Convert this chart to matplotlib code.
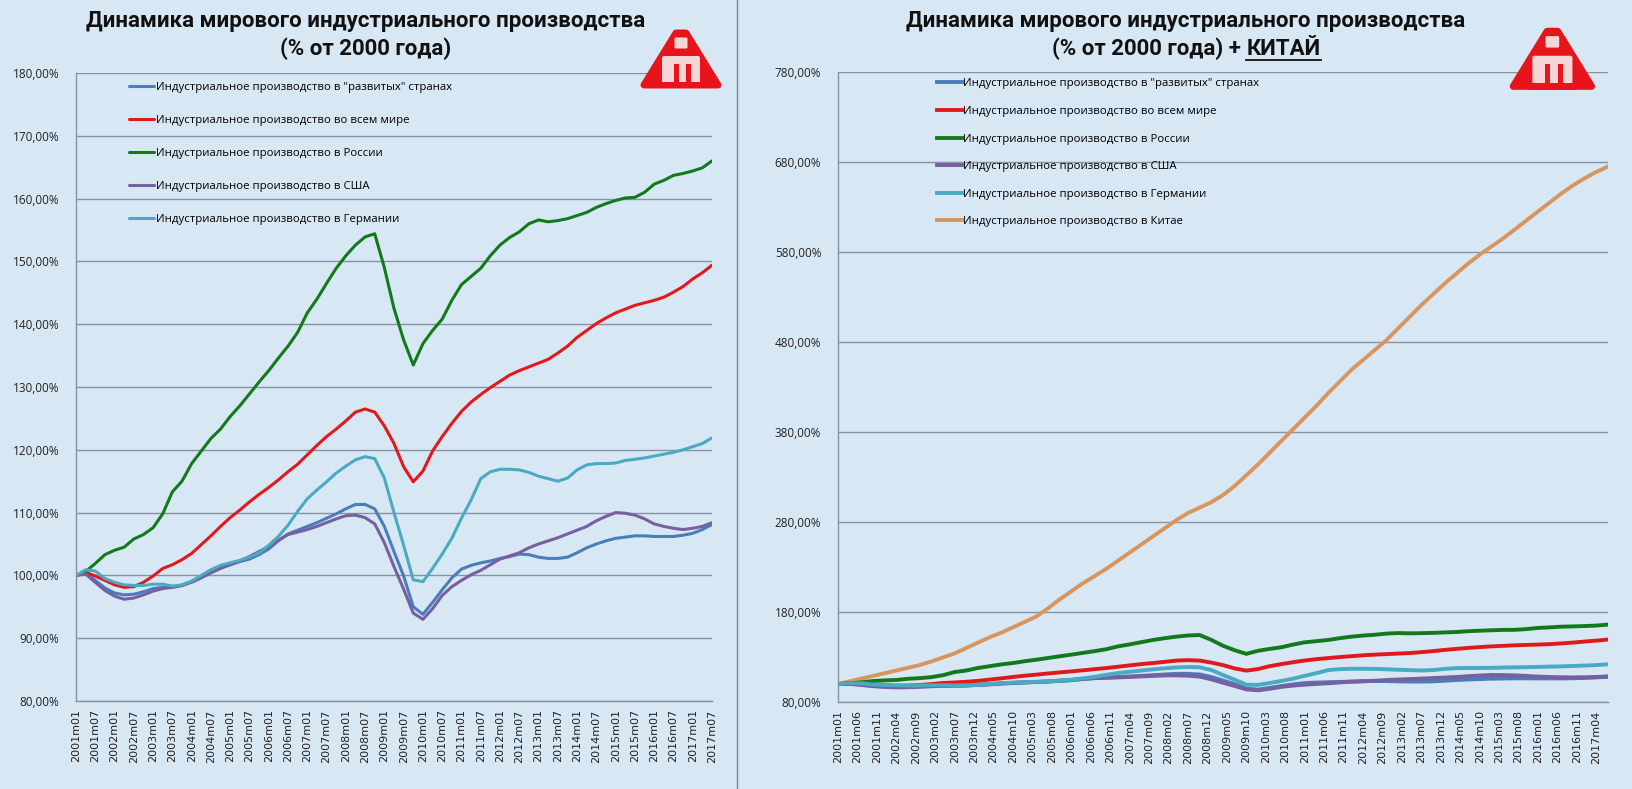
import matplotlib
matplotlib.use("Agg")
import matplotlib.pyplot as plt
from matplotlib.patches import Polygon, FancyBboxPatch, Rectangle

# quarterly points, month index from 2001m01 (0) to 2017m07 (198)
months = list(range(0, 199, 3))

developed = [100.0, 100.4, 99.2, 98.0, 97.2, 96.9, 97.0, 97.4, 97.9, 98.1, 98.1, 98.4,
             99.0, 99.8, 100.8, 101.3, 101.7, 102.2, 102.6, 103.3, 104.2, 105.5, 106.6,
             107.2, 107.8, 108.4, 109.1, 109.8, 110.6, 111.3, 111.3, 110.6, 107.8, 103.8,
             99.9, 95.0, 93.8, 95.7, 97.7, 99.6, 101.0, 101.6, 102.0, 102.3, 102.7, 103.0,
             103.4, 103.3, 102.9, 102.7, 102.7, 102.9, 103.6, 104.4, 105.0, 105.5, 105.9,
             106.1, 106.3, 106.3, 106.2, 106.2, 106.2, 106.4, 106.7, 107.3, 108.1]
world = [100.0, 100.5, 99.9, 99.2, 98.5, 98.1, 98.2, 98.9, 99.9, 101.1, 101.7, 102.5,
         103.5, 104.9, 106.3, 107.8, 109.2, 110.4, 111.7, 112.9, 114.0, 115.2, 116.5,
         117.7, 119.2, 120.7, 122.1, 123.3, 124.6, 126.0, 126.5, 126.0, 123.8, 121.0,
         117.3, 114.9, 116.6, 119.8, 122.1, 124.2, 126.1, 127.6, 128.8, 129.9, 130.9,
         131.9, 132.6, 133.2, 133.8, 134.4, 135.4, 136.5, 137.9, 139.0, 140.1, 141.0,
         141.8, 142.4, 143.0, 143.4, 143.8, 144.3, 145.1, 146.0, 147.2, 148.2, 149.4]
russia = [100.0, 100.6, 101.9, 103.3, 104.0, 104.5, 105.8, 106.5, 107.6, 109.8, 113.3,
          115.0, 117.8, 119.8, 121.8, 123.3, 125.3, 127.0, 128.9, 130.8, 132.6, 134.6,
          136.5, 138.7, 141.8, 144.0, 146.5, 148.9, 150.9, 152.6, 153.9, 154.4, 149.0,
          142.5, 137.5, 133.5, 136.9, 139.0, 140.8, 143.8, 146.3, 147.6, 148.9, 150.9,
          152.6, 153.8, 154.7, 156.0, 156.6, 156.3, 156.5, 156.8, 157.3, 157.8, 158.6,
          159.2, 159.7, 160.1, 160.2, 161.0, 162.3, 162.9, 163.7, 164.0, 164.4, 164.9, 166.0]
usa = [100.0, 100.2, 98.9, 97.6, 96.7, 96.2, 96.4, 96.9, 97.5, 97.9, 98.1, 98.4, 98.9,
       99.6, 100.4, 101.1, 101.7, 102.3, 103.0, 103.8, 104.6, 105.6, 106.5, 106.9, 107.3,
       107.8, 108.4, 109.0, 109.5, 109.6, 109.2, 108.2, 105.2, 101.4, 97.8, 94.0, 93.0,
       94.7, 96.8, 98.2, 99.2, 100.1, 100.8, 101.7, 102.6, 103.1, 103.6, 104.4, 105.0,
       105.5, 106.0, 106.6, 107.2, 107.8, 108.7, 109.4, 110.0, 109.9, 109.6, 109.0, 108.2,
       107.8, 107.5, 107.3, 107.5, 107.8, 108.4]
germany = [100.0, 100.9, 100.7, 99.5, 98.9, 98.5, 98.4, 98.4, 98.6, 98.6, 98.3, 98.5,
           99.1, 100.0, 100.9, 101.6, 102.0, 102.4, 102.9, 103.6, 104.8, 106.2, 108.0,
           110.2, 112.2, 113.6, 114.9, 116.3, 117.4, 118.4, 118.9, 118.6, 115.5, 110.0,
           104.8, 99.3, 99.0, 101.1, 103.4, 105.9, 109.1, 112.0, 115.4, 116.5, 116.9,
           116.9, 116.8, 116.4, 115.8, 115.4, 115.0, 115.5, 116.8, 117.6, 117.8, 117.8,
           117.9, 118.3, 118.5, 118.7, 119.0, 119.3, 119.6, 120.0, 120.5, 121.0, 121.9]
china = [100, 103, 106, 109, 112, 115, 118, 121, 125, 129.5, 134, 140, 146, 152, 157,
         163, 169, 175, 184, 194, 203, 212, 220, 228, 237, 246, 255, 264, 273, 282, 290,
         296, 302, 310, 320, 332, 344, 357, 370, 383, 396, 409, 423, 436, 449, 460, 471,
         482, 495, 508, 521, 533, 545, 556, 567, 577, 586, 595, 605, 615, 625, 635, 645,
         654, 662, 669, 675]

labels = ['Индустриальное производство в "развитых" странах',
          'Индустриальное производство во всем мире',
          'Индустриальное производство в России',
          'Индустриальное производство в США',
          'Индустриальное производство в Германии',
          'Индустриальное производство в Китае']
colors = ['#4a7ebb', '#e2191c', '#137a1c', '#76609f', '#4aaac4', '#d8965e']

ticks_left = ['2001m01', '2001m07', '2002m01', '2002m07', '2003m01', '2003m07', '2004m01',
              '2004m07', '2005m01', '2005m07', '2006m01', '2006m07', '2007m01', '2007m07',
              '2008m01', '2008m07', '2009m01', '2009m07', '2010m01', '2010m07', '2011m01',
              '2011m07', '2012m01', '2012m07', '2013m01', '2013m07', '2014m01', '2014m07',
              '2015m01', '2015m07', '2016m01', '2016m07', '2017m01', '2017m07']
ticks_right = ['2001m01', '2001m06', '2001m11', '2002m04', '2002m09', '2003m02', '2003m07',
               '2003m12', '2004m05', '2004m10', '2005m03', '2005m08', '2006m01', '2006m06',
               '2006m11', '2007m04', '2007m09', '2008m02', '2008m07', '2008m12', '2009m05',
               '2009m10', '2010m03', '2010m08', '2011m01', '2011m06', '2011m11', '2012m04',
               '2012m09', '2013m02', '2013m07', '2013m12', '2014m05', '2014m10', '2015m03',
               '2015m08', '2016m01', '2016m06', '2016m11', '2017m04']


def month_index(s):
    return (int(s[:4]) - 2001) * 12 + int(s[5:]) - 1


W, H = 1632, 789
bg = '#d8e7f4'
grid_c = '#8593a3'

fig = plt.figure(figsize=(W / 100, H / 100), dpi=100)
fig.patch.set_facecolor(bg)


def style_axes(ax, yticks, ticks):
    ax.set_facecolor('none')
    ax.set_xlim(0, 198)
    ax.set_ylim(yticks[0], yticks[-1])
    ax.set_yticks(yticks)
    ax.set_yticklabels([f'{v},00%' for v in yticks], family='Open Sans', fontsize=8.5,
                       color='#222222')
    ax.set_xticks([month_index(t) for t in ticks])
    ax.set_xticklabels(ticks, rotation=90, fontsize=8, color='#222222')
    ax.tick_params(axis='x', length=0, pad=6)
    ax.tick_params(axis='y', length=0, pad=12)
    ax.grid(axis='y', color=grid_c, lw=1)
    ax.set_axisbelow(True)
    for s in ['top', 'right']:
        ax.spines[s].set_visible(False)
    for s in ['left', 'bottom']:
        ax.spines[s].set_color(grid_c)
        ax.spines[s].set_linewidth(1)


series = [developed, world, russia, usa, germany, china]
leg_font = {'family': 'Open Sans', 'size': 8.2}

ax1 = fig.add_axes([76 / W, 1 - 701 / H, 636 / W, 628 / H])
style_axes(ax1, list(range(80, 181, 10)), ticks_left)
for vals, lab, c in zip(series[:5], labels[:5], colors[:5]):
    ax1.plot(months, vals, color=c, lw=2.2, label=lab, solid_capstyle='round')
ax1.legend(loc='upper left', bbox_to_anchor=(0.083, 0.985), frameon=False,
           prop=leg_font, labelspacing=1.93,
           handlelength=2.2, handletextpad=0.15, borderpad=0, borderaxespad=0)

ax2 = fig.add_axes([838 / W, 1 - 702 / H, 770 / W, 630 / H])
style_axes(ax2, list(range(80, 781, 100)), ticks_right)
lines = {}
for i in range(6):
    lines[i], = ax2.plot(months, series[i], color=colors[i], lw=2.8, label=labels[i])
ax2.legend(loc='upper left', bbox_to_anchor=(0.128, 0.99), frameon=False,
           prop=leg_font, labelspacing=1.46,
           handlelength=2.2, handletextpad=0.15, borderpad=0, borderaxespad=0)
# China drawn below the other lines
lines[5].set_zorder(1.9)

# overlay in pixel coords for titles, divider and logos
ov = fig.add_axes([0, 0, 1, 1], zorder=10)
ov.set_xlim(0, W)
ov.set_ylim(H, 0)
ov.axis('off')
ov.set_facecolor('none')

ov.plot([737, 737], [0, H], color='#7d8896', lw=1)

tkw = dict(fontsize=16, fontweight='bold', family='Roboto', color='#111111',
           ha='center', va='center')
ov.text(366, 21, 'Динамика мирового индустриального производства', **tkw)
ov.text(366, 49, '(% от 2000 года)', **tkw)
ov.text(1186, 21, 'Динамика мирового индустриального производства', **tkw)
ta = ov.text(0, 49, '(% от 2000 года) +', **{**tkw, 'ha': 'left'})
tb = ov.text(0, 49, 'КИТАЙ', **{**tkw, 'ha': 'left'})
fig.canvas.draw()
r = fig.canvas.get_renderer()
wa = ta.get_window_extent(r).width
wb = tb.get_window_extent(r).width
gap = 6
x0 = 1186 - (wa + gap + wb) / 2
ta.set_x(x0)
tb.set_x(x0 + wa + gap)
ov.plot([x0 + wa + gap, x0 + wa + gap + wb], [60, 60], color='#111111', lw=1.3)


def logo(x, y, s=1.0):
    # red "A" sign with a light "m" inside, box ~80x58 px
    red = '#e8141b'
    light = '#f4d6d6'
    def p(dx, dy):
        return (x + dx * s, y + dy * s)
    ov.add_patch(Polygon([p(3, 56), p(35, 4), p(45, 4), p(77, 56)], closed=True,
                         fc=red, ec=red, lw=5, joinstyle='round'))
    ov.add_patch(FancyBboxPatch(p(35, 10), 10 * s, 8 * s, boxstyle='round,pad=1.5',
                                fc=light, ec='none'))
    ov.add_patch(FancyBboxPatch(p(23, 29), 34 * s, 24 * s, boxstyle='round,pad=2',
                                fc=light, ec='none'))
    ov.add_patch(Rectangle(p(33, 35), 5 * s, 20 * s, fc=red, ec='none'))
    ov.add_patch(Rectangle(p(45, 35), 5 * s, 20 * s, fc=red, ec='none'))
    ov.add_patch(Rectangle(p(18, 53), 44 * s, 6 * s, fc=red, ec='none'))


logo(641, 29)
logo(1510, 27, 1.06)

fig.savefig('out.png', dpi=100, facecolor=bg)
